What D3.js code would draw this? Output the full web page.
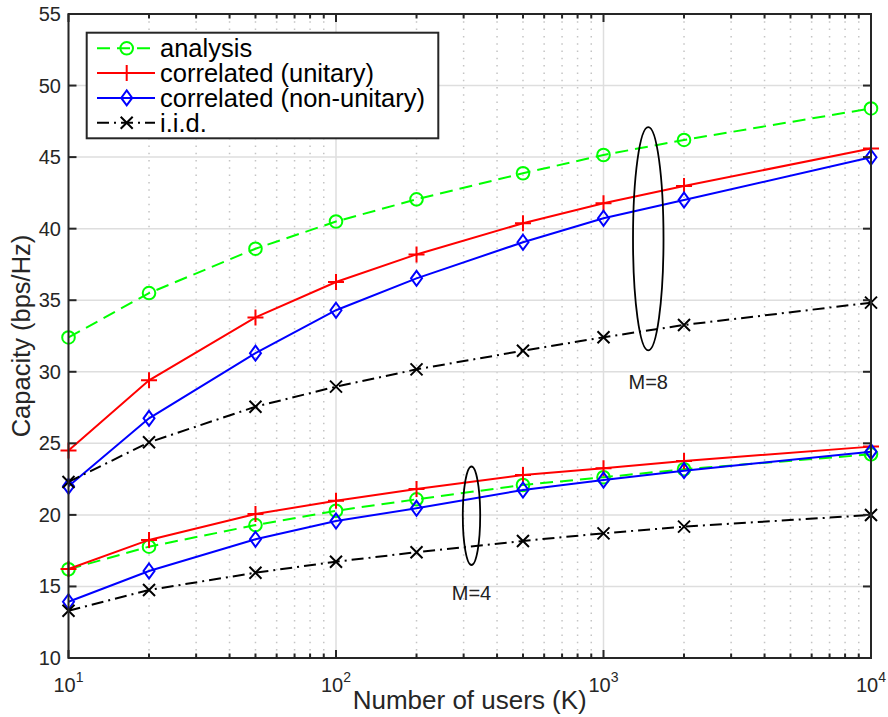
<!DOCTYPE html>
<html>
<head>
<meta charset="utf-8">
<script src="https://cdn.jsdelivr.net/npm/d3@7"></script>
<style>
  body { margin: 0; background: #fff; }
  text { font-family: "Liberation Sans", Arial, Helvetica, sans-serif; }
</style>
</head>
<body>
<div id="chart"></div>
<script>
(function() {
    // number of users on the x axis
    var users = [10, 20, 50, 100, 200, 500, 1000, 2000, 10000];

    // M = 8
    var analysisM8   = [32.4, 35.5, 38.6, 40.5, 42.05, 43.87, 45.15, 46.2, 48.4];
    var unitaryM8    = [24.5, 29.4, 33.8, 36.27, 38.2, 40.38, 41.78, 42.98, 45.6];
    var nonUnitaryM8 = [22.0, 26.75, 31.3, 34.3, 36.53, 39.05, 40.73, 42.0, 44.99];
    var iidM8        = [22.3, 25.07, 27.56, 28.96, 30.17, 31.47, 32.41, 33.27, 34.83];

    // M = 4
    var analysisM4   = [16.2, 17.78, 19.29, 20.29, 21.09, 22.09, 22.63, 23.19, 24.23];
    var unitaryM4    = [16.22, 18.25, 20.06, 20.99, 21.81, 22.79, 23.26, 23.77, 24.77];
    var nonUnitaryM4 = [13.93, 16.08, 18.3, 19.57, 20.46, 21.74, 22.44, 23.09, 24.42];
    var iidM4        = [13.3, 14.75, 15.96, 16.73, 17.39, 18.18, 18.71, 19.18, 19.99];

    var seriesNames = ["analysis", "correlated (unitary)", "correlated (non-unitary)", "i.i.d."];
    var yTicks = [10, 15, 20, 25, 30, 35, 40, 45, 50, 55];
    var xTicks = [10, 100, 1000, 10000];
    var xTickExp = ["1", "2", "3", "4"];

    // ellipse groups: center (users, capacity), half height in capacity, half width in decades
    var groupLabels = ["M=8", "M=4"];
    var groupCenterK = [1470, 321];
    var groupCenterC = [39.3, 19.94];
    var groupHalfC = [7.8, 3.44];
    var groupHalfDec = [0.057, 0.0325];
    var groupLabelC = [29.3, 14.52];

    var width = 888, height = 717;
    var margin = {left: 68.5, right: 17, top: 14, bottom: 59};

    var styles = [
        {color: "#00ff00", dash: "13,7", marker: "circle"},
        {color: "#ff0000", dash: null, marker: "plus"},
        {color: "#0000ff", dash: null, marker: "diamond"},
        {color: "#000000", dash: "12,5,2,5", marker: "cross"}
    ];

    var svg = d3.select("#chart")
        .append("svg")
        .attr("width", width)
        .attr("height", height);

    var x = d3.scaleLog()
        .domain([10, 10000])
        .range([margin.left, width - margin.right]);

    var y = d3.scaleLinear()
        .domain([10, 55])
        .range([height - margin.bottom, margin.top]);

    var x0 = x.range()[0], x1 = x.range()[1],
        y0 = y.range()[0], y1 = y.range()[1];

    // minor grid (dotted) for the log axis
    var minorTicks = [];
    [10, 100, 1000].forEach(function(dec) {
        for (var i = 2; i <= 9; i++) minorTicks.push(dec * i);
    });

    svg.append("g").selectAll("line")
        .data(minorTicks)
        .enter().append("line")
        .attr("x1", function(d) { return x(d); })
        .attr("x2", function(d) { return x(d); })
        .attr("y1", y1)
        .attr("y2", y0)
        .attr("stroke", "#c4c4c4")
        .attr("stroke-width", 1.5)
        .attr("stroke-dasharray", "1.5,5.8");

    // major grid
    svg.append("g").selectAll("line")
        .data(xTicks)
        .enter().append("line")
        .attr("x1", function(d) { return x(d); })
        .attr("x2", function(d) { return x(d); })
        .attr("y1", y1)
        .attr("y2", y0)
        .attr("stroke", "#dedede")
        .attr("stroke-width", 1.5);

    svg.append("g").selectAll("line")
        .data(yTicks)
        .enter().append("line")
        .attr("x1", x0)
        .attr("x2", x1)
        .attr("y1", function(d) { return y(d); })
        .attr("y2", function(d) { return y(d); })
        .attr("stroke", "#dedede")
        .attr("stroke-width", 1.5);

    // data lines
    var line = d3.line()
        .x(function(d) { return x(d[0]); })
        .y(function(d) { return y(d[1]); });

    var allSeries = [
        [analysisM8, analysisM4],
        [unitaryM8, unitaryM4],
        [nonUnitaryM8, nonUnitaryM4],
        [iidM8, iidM4]
    ];

    function drawMarker(g, type, color) {
        if (type === "circle") {
            g.append("circle").attr("r", 6.3)
                .attr("fill", "none").attr("stroke", color).attr("stroke-width", 2);
        } else if (type === "plus") {
            g.append("path").attr("d", "M-8,0H8M0,-8V8")
                .attr("fill", "none").attr("stroke", color).attr("stroke-width", 2);
        } else if (type === "diamond") {
            g.append("path").attr("d", "M0,-7.5L5.5,0L0,7.5L-5.5,0Z")
                .attr("fill", "none").attr("stroke", color).attr("stroke-width", 2);
        } else {
            g.append("path").attr("d", "M-6,-6L6,6M-6,6L6,-6")
                .attr("fill", "none").attr("stroke", color).attr("stroke-width", 2);
        }
    }

    var plot = svg.append("g");

    allSeries.forEach(function(pair, si) {
        var st = styles[si];
        pair.forEach(function(vals) {
            var pts = users.map(function(u, i) { return [u, vals[i]]; });
            plot.append("path")
                .datum(pts)
                .attr("d", line)
                .attr("fill", "none")
                .attr("stroke", st.color)
                .attr("stroke-width", 2)
                .attr("stroke-dasharray", st.dash);
            pts.forEach(function(p) {
                var m = plot.append("g")
                    .attr("transform", "translate(" + x(p[0]) + "," + y(p[1]) + ")");
                drawMarker(m, st.marker, st.color);
            });
        });
    });

    // ellipses and group labels
    groupLabels.forEach(function(lbl, i) {
        var cx = x(groupCenterK[i]), cy = y(groupCenterC[i]);
        var rx = x(groupCenterK[i] * Math.pow(10, groupHalfDec[i])) - cx;
        var ry = y(groupCenterC[i] - groupHalfC[i]) - cy;
        plot.append("ellipse")
            .attr("cx", cx).attr("cy", cy)
            .attr("rx", rx).attr("ry", ry)
            .attr("fill", "none")
            .attr("stroke", "#000")
            .attr("stroke-width", 1.8);
        plot.append("text")
            .attr("x", cx)
            .attr("y", y(groupLabelC[i]))
            .attr("dy", "0.35em")
            .attr("text-anchor", "middle")
            .attr("font-size", 20)
            .attr("fill", "#222")
            .text(lbl);
    });

    // axes box
    var axisColor = "#262626";
    svg.append("rect")
        .attr("x", x0).attr("y", y1)
        .attr("width", x1 - x0).attr("height", y0 - y1)
        .attr("fill", "none")
        .attr("stroke", axisColor)
        .attr("stroke-width", 2);

    // ticks (inward, on all four sides)
    var tickG = svg.append("g").attr("stroke", axisColor).attr("stroke-width", 2);
    yTicks.forEach(function(v) {
        tickG.append("line").attr("x1", x0).attr("x2", x0 + 8).attr("y1", y(v)).attr("y2", y(v));
        tickG.append("line").attr("x1", x1).attr("x2", x1 - 8).attr("y1", y(v)).attr("y2", y(v));
    });
    xTicks.forEach(function(v) {
        tickG.append("line").attr("x1", x(v)).attr("x2", x(v)).attr("y1", y0).attr("y2", y0 - 8);
        tickG.append("line").attr("x1", x(v)).attr("x2", x(v)).attr("y1", y1).attr("y2", y1 + 8);
    });
    minorTicks.forEach(function(v) {
        tickG.append("line").attr("x1", x(v)).attr("x2", x(v)).attr("y1", y0).attr("y2", y0 - 4.5);
        tickG.append("line").attr("x1", x(v)).attr("x2", x(v)).attr("y1", y1).attr("y2", y1 + 4.5);
    });

    // y tick labels
    svg.append("g").selectAll("text")
        .data(yTicks)
        .enter().append("text")
        .attr("x", x0 - 7.5)
        .attr("y", function(d) { return y(d); })
        .attr("dy", "0.35em")
        .attr("text-anchor", "end")
        .attr("font-size", 20)
        .attr("fill", axisColor)
        .text(function(d) { return d; });

    // x tick labels 10^n
    xTicks.forEach(function(v, i) {
        var t = svg.append("text")
            .attr("x", x(v))
            .attr("y", y0 + 34)
            .attr("text-anchor", "middle")
            .attr("font-size", 20)
            .attr("fill", axisColor);
        t.append("tspan").text("10");
        t.append("tspan")
            .attr("font-size", 14)
            .attr("dy", -10)
            .text(xTickExp[i]);
    });

    // axis labels
    svg.append("text")
        .attr("x", (x0 + x1) / 2)
        .attr("y", 709)
        .attr("text-anchor", "middle")
        .attr("font-size", 26)
        .attr("fill", axisColor)
        .text("Number of users (K)");

    svg.append("text")
        .attr("transform", "translate(30," + ((y0 + y1) / 2) + ") rotate(-90)")
        .attr("text-anchor", "middle")
        .attr("font-size", 25.5)
        .attr("fill", axisColor)
        .text("Capacity (bps/Hz)");

    // legend
    var legend = svg.append("g");
    legend.append("rect")
        .attr("x", 86.7).attr("y", 32.7)
        .attr("width", 351.6).attr("height", 105.6)
        .attr("fill", "#fff")
        .attr("stroke", axisColor)
        .attr("stroke-width", 2);

    seriesNames.forEach(function(name, i) {
        var st = styles[i];
        var ry = 48.3 + i * 24.8;
        legend.append("line")
            .attr("x1", 97).attr("x2", 155)
            .attr("y1", ry).attr("y2", ry)
            .attr("stroke", st.color)
            .attr("stroke-width", 2)
            .attr("stroke-dasharray", st.dash);
        var m = legend.append("g").attr("transform", "translate(126.7," + ry + ")");
        drawMarker(m, st.marker, st.color);
        legend.append("text")
            .attr("x", 160)
            .attr("y", ry)
            .attr("dy", "0.35em")
            .attr("font-size", 25.5)
            .attr("textLength", null)
            .attr("fill", "#000")
            .text(name);
    });
})();
</script>
</body>
</html>
